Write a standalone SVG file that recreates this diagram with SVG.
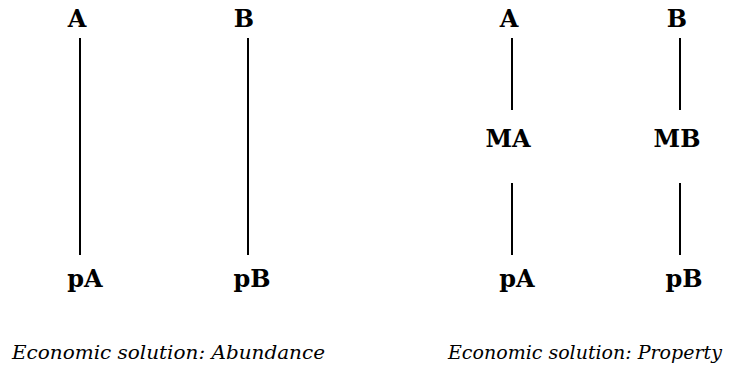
<svg xmlns="http://www.w3.org/2000/svg" width="735" height="368" viewBox="0 0 735 368">
<style>
.lbl{font-family:'DejaVu Serif','Liberation Serif',serif;font-weight:bold;font-size:24px;fill:#000;text-anchor:middle}
.cap{font-family:'DejaVu Serif','Liberation Serif',serif;font-style:italic;font-size:19px;fill:#000}
.ln{stroke:#000;stroke-width:2;fill:none}
</style>
<rect width="735" height="368" fill="#fff"/>
<g id="connectors">
<line class="ln" x1="80" y1="38" x2="80" y2="255"/>
<line class="ln" x1="248" y1="38" x2="248" y2="255"/>
<line class="ln" x1="512" y1="38" x2="512" y2="110"/>
<line class="ln" x1="680" y1="38" x2="680" y2="110"/>
<line class="ln" x1="512" y1="183" x2="512" y2="255"/>
<line class="ln" x1="680" y1="183" x2="680" y2="255"/>
</g>
<g id="A1"><text class="lbl" x="77" y="27">A</text></g>
<g id="B1"><text class="lbl" x="244" y="27">B</text></g>
<g id="pA1"><text class="lbl" x="85" y="287">pA</text></g>
<g id="pB1"><text class="lbl" x="252" y="287">pB</text></g>
<g id="A2"><text class="lbl" x="509" y="27">A</text></g>
<g id="B2"><text class="lbl" x="677" y="27">B</text></g>
<g id="MA"><text class="lbl" x="508" y="147">MA</text></g>
<g id="MB"><text class="lbl" x="677" y="147">MB</text></g>
<g id="pA2"><text class="lbl" x="517" y="287">pA</text></g>
<g id="pB2"><text class="lbl" x="684" y="287">pB</text></g>
<g id="cap1"><text class="cap" x="12" y="359" textLength="313" lengthAdjust="spacingAndGlyphs">Economic solution: Abundance</text></g>
<g id="cap2"><text class="cap" x="448" y="359">Economic solution: Property</text></g>
</svg>
